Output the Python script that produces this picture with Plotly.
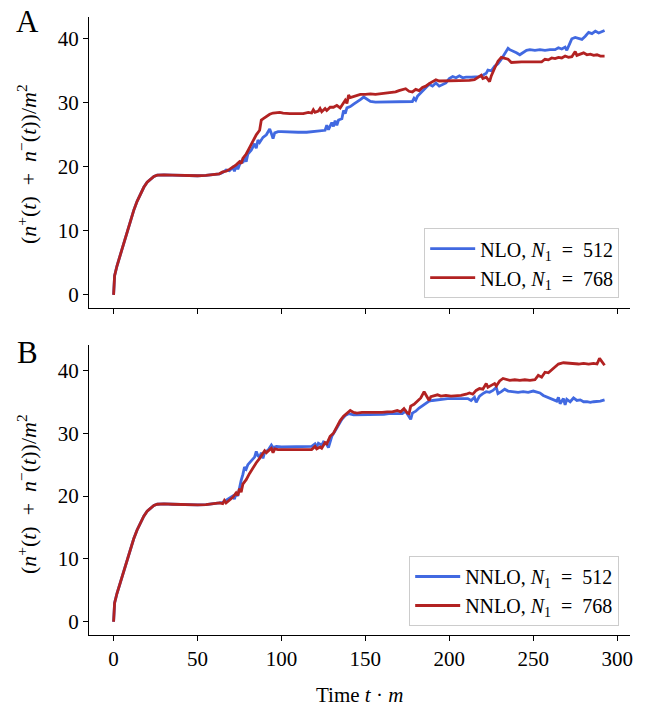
import plotly.graph_objects as go
from plotly.subplots import make_subplots

# ---------------- data ----------------
t_early = [0, 0.6, 2, 4, 6, 8, 10, 12, 14, 16, 18, 20, 22, 24, 26, 28, 30, 35, 40, 45, 50, 55, 60]
v_early = [0, 3.0, 4.5, 6.3, 8.2, 10.0, 11.7, 13.2, 14.6, 15.8, 16.8, 17.6, 18.1, 18.5, 18.7, 18.75,
           18.75, 18.7, 18.65, 18.6, 18.6, 18.65, 18.75]

# Panel A, NLO N1=768 (red)
tA_768 = [63, 65, 67, 69, 71, 73, 75, 76, 77, 79, 81, 83, 85, 87, 88, 89, 91, 93, 95, 97, 99, 101, 105,
          110, 113, 116, 118, 119, 120, 122, 123, 124, 126, 127, 129, 131, 133, 135, 137, 138, 139, 140,
          141, 143, 145, 147, 150, 153, 156, 159, 162, 165, 168, 170, 172, 174, 176, 178, 180, 182, 184,
          186, 188, 190, 192, 194, 197, 200, 203, 206, 209, 212, 215, 217, 219, 220, 222, 224, 225, 227,
          229, 231, 233, 235, 237, 240, 243, 246, 249, 252, 255, 257, 259, 261, 263, 265, 267, 269, 271,
          273, 275, 276, 278, 280, 282, 284, 286, 288, 290, 292.5]
vA_768 = [18.9, 19.2, 19.3, 19.6, 19.9, 20.3, 20.8, 20.5, 21.3, 22.0, 23.0, 24.0, 25.0, 25.7, 27.3, 27.5,
          27.9, 28.2, 28.4, 28.5, 28.5, 28.4, 28.3, 28.3, 28.3, 28.5, 28.4, 28.9, 28.5, 28.7, 29.1, 28.6,
          29.1, 28.8, 29.3, 29.3, 29.6, 29.2, 30.0, 30.4, 29.9, 31.2, 30.8, 31.0, 31.1, 31.3, 31.3, 31.4,
          31.3, 31.4, 31.5, 31.5, 31.7, 31.9, 32.0, 32.2, 31.8, 31.7, 32.1, 31.9, 32.4, 32.6, 33.0, 33.3,
          33.6, 33.4, 33.4, 33.5, 33.5, 33.5, 33.4, 33.5, 33.6, 33.9, 34.3, 33.8, 34.0, 33.3, 34.2, 35.4,
          36.5, 37.1, 37.0, 36.8, 36.3, 36.4, 36.4, 36.4, 36.4, 36.5, 36.4, 36.8, 36.7, 37.0, 36.9, 37.1,
          37.0, 37.3, 37.1, 37.2, 38.0, 37.4, 37.6, 37.8, 37.5, 37.6, 37.4, 37.5, 37.3, 37.3]

# Panel A, NLO N1=512 (blue)
tA_512 = [63, 65, 67, 69, 71, 72, 73, 74, 76, 77, 78, 79, 80, 82, 84, 85, 86, 87, 89, 91, 93, 94, 95, 96,
          98, 100, 105, 110, 115, 120, 124, 126, 127, 128, 130, 131, 132, 133, 134, 136, 137, 138, 139,
          141, 143, 145, 147, 149, 151, 153, 156, 160, 165, 170, 175, 178, 179, 180, 181, 183, 185, 187,
          188, 190, 192, 194, 196, 198, 200, 202, 204, 206, 208, 210, 213, 216, 218, 220, 222, 223, 225,
          227, 229, 231, 233, 235, 236, 238, 240, 242, 244, 246, 248, 251, 254, 257, 260, 263, 265, 267,
          269, 270, 272, 273, 275, 277, 279, 281, 283, 285, 287, 289, 291, 292.5]
vA_512 = [18.9, 19.1, 19.5, 19.4, 19.9, 19.3, 20.3, 19.6, 21.0, 20.6, 21.5, 20.8, 22.0, 22.6, 23.6, 22.9,
          24.2, 23.8, 24.6, 25.0, 25.9, 25.2, 24.4, 25.3, 25.5, 25.5, 25.4, 25.4, 25.4, 25.5, 25.6, 25.7,
          26.5, 25.8, 26.9, 26.3, 27.2, 26.5, 27.3, 27.5, 28.8, 28.3, 29.2, 29.4, 29.8, 30.1, 30.5, 30.9,
          30.5, 30.2, 30.1, 30.1, 30.1, 30.1, 30.1, 30.2, 30.7, 30.4, 31.0, 31.5, 32.0, 32.5, 32.9, 32.6,
          33.1, 32.6, 32.9, 33.1, 33.8, 34.1, 33.9, 34.2, 33.9, 34.0, 34.0, 34.0, 34.1, 34.3, 34.6, 35.1,
          35.0, 35.7, 36.1, 36.8, 37.6, 38.5, 38.3, 38.1, 37.8, 37.5, 37.8, 38.2, 38.3, 38.2, 38.3, 38.2,
          38.3, 38.3, 38.6, 38.4, 38.7, 38.2, 39.4, 40.0, 40.2, 40.0, 39.9, 40.4, 41.0, 40.8, 41.2, 40.9,
          41.2, 41.3]

# Panel B, NNLO N1=768 (red)
tB_768 = [63, 65, 66, 67, 69, 71, 73, 74, 75, 76, 77, 79, 81, 83, 85, 87, 88, 89, 90, 91, 93, 94, 95, 96,
          98, 100, 105, 110, 115, 118, 120, 121, 123, 124, 126, 127, 129, 131, 133, 135, 137, 139, 141,
          143, 145, 148, 151, 154, 157, 160, 163, 166, 169, 171, 173, 175, 176, 177, 179, 181, 183, 185,
          186, 188, 189, 191, 193, 195, 198, 201, 204, 207, 210, 212, 214, 216, 218, 220, 222, 223, 225,
          227, 228, 230, 232, 234, 236, 239, 242, 245, 248, 251, 253, 255, 257, 259, 261, 263, 265, 268,
          271, 274, 277, 280, 283, 286, 288, 289.5, 291, 292.5]
vB_768 = [18.9, 18.8, 19.3, 18.9, 19.3, 19.8, 20.5, 20.1, 21.2, 20.6, 21.9, 22.6, 23.6, 24.5, 25.3, 26.0,
          26.4, 26.8, 27.2, 26.9, 27.3, 27.6, 26.9, 27.5, 27.4, 27.4, 27.3, 27.3, 27.4, 27.4, 27.9, 27.5,
          27.8, 27.6, 28.5, 28.3, 29.5, 30.0, 31.0, 32.0, 32.7, 33.2, 33.6, 33.3, 33.2, 33.3, 33.3, 33.2,
          33.3, 33.3, 33.4, 33.4, 33.6, 33.4, 33.9, 33.2, 33.1, 34.3, 34.6, 35.1, 35.6, 36.6, 36.2, 35.2,
          35.8, 35.9, 36.1, 35.9, 36.0, 35.9, 35.9, 36.0, 36.2, 36.4, 36.2, 36.8, 37.1, 37.0, 37.9, 37.3,
          37.6, 37.9, 37.5, 38.3, 38.7, 38.5, 38.4, 38.5, 38.4, 38.5, 38.4, 38.5, 39.2, 38.9, 39.7, 39.6,
          40.1, 40.6, 41.0, 41.2, 41.1, 41.1, 41.0, 41.1, 41.0, 41.1, 41.0, 41.9, 41.3, 40.8]

# Panel B, NNLO N1=512 (blue)
tB_512 = [63, 65, 67, 69, 71, 72, 73, 74, 75, 76, 77, 78, 79, 80, 82, 84, 85, 86, 87, 88, 89, 90, 92, 93,
          94, 95, 97, 100, 105, 110, 115, 118, 120, 121, 122, 124, 125, 127, 128, 129, 130, 132, 134, 136,
          138, 140, 143, 146, 149, 152, 155, 158, 161, 164, 167, 170, 172, 174, 176, 177, 178, 180, 182,
          184, 186, 188, 190, 193, 196, 199, 202, 205, 208, 211, 213, 215, 216, 218, 220, 222, 224, 226,
          228, 229, 231, 233, 235, 238, 241, 244, 247, 250, 252, 254, 256, 258, 260, 262, 264, 265, 266,
          268, 269, 270, 272, 274, 276, 278, 280, 282, 284, 286, 288, 290, 292.5]
vB_512 = [18.9, 19.0, 19.3, 19.6, 20.0, 19.5, 20.5, 20.0, 21.5, 22.5, 23.4, 24.6, 24.3, 25.0, 25.6, 26.2,
          27.1, 26.4, 26.2, 26.9, 26.0, 27.0, 27.3, 27.8, 28.1, 27.7, 27.9, 27.8, 27.8, 27.8, 27.8, 27.9,
          28.3, 27.8, 28.4, 28.1, 28.6, 28.2, 27.7, 28.6, 29.5, 30.4, 31.3, 32.2, 32.8, 33.1, 32.9, 32.9,
          32.9, 32.9, 33.0, 33.0, 33.0, 33.1, 33.1, 33.2, 33.1, 33.5, 32.6, 32.2, 33.2, 33.5, 34.0, 34.4,
          34.7, 35.1, 35.2, 35.3, 35.5, 35.5, 35.5, 35.5, 35.6, 35.5, 35.2, 35.7, 34.9, 35.9, 36.3, 36.6,
          36.5, 36.8, 37.3, 36.3, 36.6, 37.0, 36.7, 36.6, 36.5, 36.6, 36.5, 36.7, 36.5, 36.4, 36.0, 35.8,
          35.5, 35.3, 35.1, 35.7, 34.7, 35.5, 34.5, 35.4, 35.0, 35.6, 35.2, 35.3, 35.0, 35.0, 34.9, 35.0,
          35.0, 35.1, 35.3]

x_ticks = [0, 50, 100, 150, 200, 250, 300]
y_ticks = [0, 10, 20, 30, 40]
labels_A = ["NLO, <i>N</i><sub>1</sub>\u2002=\u2002512", "NLO, <i>N</i><sub>1</sub>\u2002=\u2002768"]
labels_B = ["NNLO, <i>N</i><sub>1</sub>\u2002=\u2002512", "NNLO, <i>N</i><sub>1</sub>\u2002=\u2002768"]
panel_names = ["A", "B"]
y_title = ("(<i>n</i><sup>+</sup>(<i>t</i>)\u2002+\u2002<i>n</i><sup>−</sup>(<i>t</i>))"
           "/<i>m</i><sup>2</sup>")
x_title = "Time <i>t</i> · <i>m</i>"

BLUE = "#4169E1"
RED = "#B22222"
FONT = "Liberation Serif"

fig = make_subplots(rows=2, cols=1, vertical_spacing=0.06)

def add(row, t, v, name, color, legend):
    fig.add_trace(go.Scatter(x=t_early + t, y=v_early + v, mode="lines", name=name,
                             line=dict(color=color, width=2.8), legend=legend),
                  row=row, col=1)

add(1, tA_512, vA_512, labels_A[0], BLUE, "legend")
add(1, tA_768, vA_768, labels_A[1], RED, "legend")
add(2, tB_512, vB_512, labels_B[0], BLUE, "legend2")
add(2, tB_768, vB_768, labels_B[1], RED, "legend2")

axis_common = dict(showline=True, linecolor="black", linewidth=1.3, ticks="outside",
                   ticklen=5, tickwidth=1.3, tickcolor="black", showgrid=False, zeroline=False,
                   automargin=False,
                   tickfont=dict(family=FONT, size=21, color="black"))

fig.update_xaxes(range=[-14.65, 307.65], tickvals=x_ticks, **axis_common)
fig.update_xaxes(showticklabels=False, row=1, col=1)
fig.update_yaxes(tickvals=y_ticks, **axis_common)
fig.update_yaxes(range=[-2.07, 43.4], domain=[0.529, 1.0], row=1, col=1)
fig.update_yaxes(range=[-2.1, 44.0], domain=[0.0, 0.469], row=2, col=1)

legend_style = dict(xanchor="right", yanchor="bottom", bgcolor="rgba(255,255,255,0.8)",
                    bordercolor="#cccccc", borderwidth=1, itemwidth=45,
                    font=dict(family=FONT, size=20, color="black"), tracegroupgap=0)

fig.update_layout(
    width=648, height=710,
    margin=dict(l=89, r=18, t=17, b=75, autoexpand=False),
    plot_bgcolor="white", paper_bgcolor="white",
    legend=dict(x=0.98, y=0.545, **legend_style),
    legend2=dict(x=0.98, y=0.0146, **legend_style),
    showlegend=True,
)

# panel letters
for name, yp in zip(panel_names, [0.992, 0.457]):
    fig.add_annotation(text=name, xref="paper", yref="paper", x=-0.113, y=yp,
                       xanchor="center", yanchor="middle", showarrow=False,
                       font=dict(family=FONT, size=31, color="black"))

# y-axis titles
for yp in [0.762, 0.228]:
    fig.add_annotation(text=y_title, xref="paper", yref="paper", x=-0.1146, y=yp,
                       xanchor="center", yanchor="middle", textangle=-90, showarrow=False,
                       font=dict(family=FONT, size=22, color="black"))

# x-axis title
fig.add_annotation(text=x_title, xref="paper", yref="paper", x=0.5, y=-0.097,
                   xanchor="center", yanchor="middle", showarrow=False,
                   font=dict(family=FONT, size=21, color="black"))

fig.write_html("out.html", config={"displayModeBar": False},
               post_script="document.body.style.margin='0';document.body.style.overflow='hidden';")
